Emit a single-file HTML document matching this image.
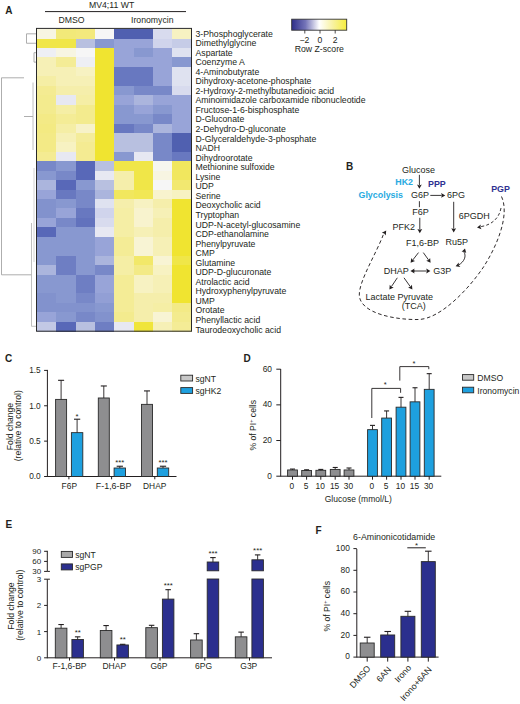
<!DOCTYPE html>
<html><head><meta charset="utf-8"><style>
html,body{margin:0;padding:0;background:#fff;}
svg{display:block;font-family:"Liberation Sans", sans-serif;}
</style></head><body>
<svg width="520" height="704" viewBox="0 0 520 704">
<rect width="520" height="704" fill="#ffffff"/>
<rect x="36.90" y="29.10" width="19.93" height="10.04" fill="#f7f5e2" shape-rendering="crispEdges"/>
<rect x="56.22" y="29.10" width="19.93" height="10.04" fill="#f2e979" shape-rendering="crispEdges"/>
<rect x="75.55" y="29.10" width="19.93" height="10.04" fill="#f3e97d" shape-rendering="crispEdges"/>
<rect x="94.88" y="29.10" width="19.93" height="10.04" fill="#f6f6f6" shape-rendering="crispEdges"/>
<rect x="114.20" y="29.10" width="19.93" height="10.04" fill="#5060b0" shape-rendering="crispEdges"/>
<rect x="133.53" y="29.10" width="19.93" height="10.04" fill="#5060b0" shape-rendering="crispEdges"/>
<rect x="152.85" y="29.10" width="19.93" height="10.04" fill="#d8dbee" shape-rendering="crispEdges"/>
<rect x="172.18" y="29.10" width="19.93" height="10.04" fill="#f7f2c2" shape-rendering="crispEdges"/>
<rect x="36.90" y="38.54" width="19.93" height="10.04" fill="#f0e648" shape-rendering="crispEdges"/>
<rect x="56.22" y="38.54" width="19.93" height="10.04" fill="#f0e648" shape-rendering="crispEdges"/>
<rect x="75.55" y="38.54" width="19.93" height="10.04" fill="#b8c0e0" shape-rendering="crispEdges"/>
<rect x="94.88" y="38.54" width="19.93" height="10.04" fill="#8898d0" shape-rendering="crispEdges"/>
<rect x="114.20" y="38.54" width="19.93" height="10.04" fill="#98a4d8" shape-rendering="crispEdges"/>
<rect x="133.53" y="38.54" width="19.93" height="10.04" fill="#98a4d8" shape-rendering="crispEdges"/>
<rect x="152.85" y="38.54" width="19.93" height="10.04" fill="#d0d4ec" shape-rendering="crispEdges"/>
<rect x="172.18" y="38.54" width="19.93" height="10.04" fill="#c6cce7" shape-rendering="crispEdges"/>
<rect x="36.90" y="47.98" width="19.93" height="10.04" fill="#eeeff4" shape-rendering="crispEdges"/>
<rect x="56.22" y="47.98" width="19.93" height="10.04" fill="#f7f5e2" shape-rendering="crispEdges"/>
<rect x="75.55" y="47.98" width="19.93" height="10.04" fill="#f6f6f6" shape-rendering="crispEdges"/>
<rect x="94.88" y="47.98" width="19.93" height="10.04" fill="#f0e430" shape-rendering="crispEdges"/>
<rect x="114.20" y="47.98" width="19.93" height="10.04" fill="#98a4d8" shape-rendering="crispEdges"/>
<rect x="133.53" y="47.98" width="19.93" height="10.04" fill="#8898d0" shape-rendering="crispEdges"/>
<rect x="152.85" y="47.98" width="19.93" height="10.04" fill="#98a4d8" shape-rendering="crispEdges"/>
<rect x="172.18" y="47.98" width="19.93" height="10.04" fill="#dfe2f0" shape-rendering="crispEdges"/>
<rect x="36.90" y="57.42" width="19.93" height="10.04" fill="#f6f0b6" shape-rendering="crispEdges"/>
<rect x="56.22" y="57.42" width="19.93" height="10.04" fill="#f4ec96" shape-rendering="crispEdges"/>
<rect x="75.55" y="57.42" width="19.93" height="10.04" fill="#eeeff4" shape-rendering="crispEdges"/>
<rect x="94.88" y="57.42" width="19.93" height="10.04" fill="#f0e430" shape-rendering="crispEdges"/>
<rect x="114.20" y="57.42" width="19.93" height="10.04" fill="#98a4d8" shape-rendering="crispEdges"/>
<rect x="133.53" y="57.42" width="19.93" height="10.04" fill="#98a4d8" shape-rendering="crispEdges"/>
<rect x="152.85" y="57.42" width="19.93" height="10.04" fill="#98a4d8" shape-rendering="crispEdges"/>
<rect x="172.18" y="57.42" width="19.93" height="10.04" fill="#8898d0" shape-rendering="crispEdges"/>
<rect x="36.90" y="66.86" width="19.93" height="10.04" fill="#f6f0b6" shape-rendering="crispEdges"/>
<rect x="56.22" y="66.86" width="19.93" height="10.04" fill="#f6f0b6" shape-rendering="crispEdges"/>
<rect x="75.55" y="66.86" width="19.93" height="10.04" fill="#f7f2c2" shape-rendering="crispEdges"/>
<rect x="94.88" y="66.86" width="19.93" height="10.04" fill="#f0e430" shape-rendering="crispEdges"/>
<rect x="114.20" y="66.86" width="19.93" height="10.04" fill="#6878c0" shape-rendering="crispEdges"/>
<rect x="133.53" y="66.86" width="19.93" height="10.04" fill="#6878c0" shape-rendering="crispEdges"/>
<rect x="152.85" y="66.86" width="19.93" height="10.04" fill="#98a4d8" shape-rendering="crispEdges"/>
<rect x="172.18" y="66.86" width="19.93" height="10.04" fill="#dfe2f0" shape-rendering="crispEdges"/>
<rect x="36.90" y="76.30" width="19.93" height="10.04" fill="#f5eea5" shape-rendering="crispEdges"/>
<rect x="56.22" y="76.30" width="19.93" height="10.04" fill="#f6f0b6" shape-rendering="crispEdges"/>
<rect x="75.55" y="76.30" width="19.93" height="10.04" fill="#f6f0b6" shape-rendering="crispEdges"/>
<rect x="94.88" y="76.30" width="19.93" height="10.04" fill="#f0e430" shape-rendering="crispEdges"/>
<rect x="114.20" y="76.30" width="19.93" height="10.04" fill="#6878c0" shape-rendering="crispEdges"/>
<rect x="133.53" y="76.30" width="19.93" height="10.04" fill="#6878c0" shape-rendering="crispEdges"/>
<rect x="152.85" y="76.30" width="19.93" height="10.04" fill="#98a4d8" shape-rendering="crispEdges"/>
<rect x="172.18" y="76.30" width="19.93" height="10.04" fill="#dfe2f0" shape-rendering="crispEdges"/>
<rect x="36.90" y="85.74" width="19.93" height="10.04" fill="#f4eb92" shape-rendering="crispEdges"/>
<rect x="56.22" y="85.74" width="19.93" height="10.04" fill="#f5eeab" shape-rendering="crispEdges"/>
<rect x="75.55" y="85.74" width="19.93" height="10.04" fill="#f5eeab" shape-rendering="crispEdges"/>
<rect x="94.88" y="85.74" width="19.93" height="10.04" fill="#f0e430" shape-rendering="crispEdges"/>
<rect x="114.20" y="85.74" width="19.93" height="10.04" fill="#8898d0" shape-rendering="crispEdges"/>
<rect x="133.53" y="85.74" width="19.93" height="10.04" fill="#7888c8" shape-rendering="crispEdges"/>
<rect x="152.85" y="85.74" width="19.93" height="10.04" fill="#7888c8" shape-rendering="crispEdges"/>
<rect x="172.18" y="85.74" width="19.93" height="10.04" fill="#d8dbee" shape-rendering="crispEdges"/>
<rect x="36.90" y="95.18" width="19.93" height="10.04" fill="#f3eb8e" shape-rendering="crispEdges"/>
<rect x="56.22" y="95.18" width="19.93" height="10.04" fill="#e7e8f2" shape-rendering="crispEdges"/>
<rect x="75.55" y="95.18" width="19.93" height="10.04" fill="#f5eea5" shape-rendering="crispEdges"/>
<rect x="94.88" y="95.18" width="19.93" height="10.04" fill="#f0e430" shape-rendering="crispEdges"/>
<rect x="114.20" y="95.18" width="19.93" height="10.04" fill="#98a4d8" shape-rendering="crispEdges"/>
<rect x="133.53" y="95.18" width="19.93" height="10.04" fill="#abb5dd" shape-rendering="crispEdges"/>
<rect x="152.85" y="95.18" width="19.93" height="10.04" fill="#98a4d8" shape-rendering="crispEdges"/>
<rect x="172.18" y="95.18" width="19.93" height="10.04" fill="#98a4d8" shape-rendering="crispEdges"/>
<rect x="36.90" y="104.62" width="19.93" height="10.04" fill="#f3eb8e" shape-rendering="crispEdges"/>
<rect x="56.22" y="104.62" width="19.93" height="10.04" fill="#f5eea5" shape-rendering="crispEdges"/>
<rect x="75.55" y="104.62" width="19.93" height="10.04" fill="#f3eb8e" shape-rendering="crispEdges"/>
<rect x="94.88" y="104.62" width="19.93" height="10.04" fill="#f0e430" shape-rendering="crispEdges"/>
<rect x="114.20" y="104.62" width="19.93" height="10.04" fill="#8898d0" shape-rendering="crispEdges"/>
<rect x="133.53" y="104.62" width="19.93" height="10.04" fill="#98a4d8" shape-rendering="crispEdges"/>
<rect x="152.85" y="104.62" width="19.93" height="10.04" fill="#8898d0" shape-rendering="crispEdges"/>
<rect x="172.18" y="104.62" width="19.93" height="10.04" fill="#98a4d8" shape-rendering="crispEdges"/>
<rect x="36.90" y="114.07" width="19.93" height="10.04" fill="#f3ea86" shape-rendering="crispEdges"/>
<rect x="56.22" y="114.07" width="19.93" height="10.04" fill="#f4ec96" shape-rendering="crispEdges"/>
<rect x="75.55" y="114.07" width="19.93" height="10.04" fill="#f3eb8e" shape-rendering="crispEdges"/>
<rect x="94.88" y="114.07" width="19.93" height="10.04" fill="#f0e430" shape-rendering="crispEdges"/>
<rect x="114.20" y="114.07" width="19.93" height="10.04" fill="#8898d0" shape-rendering="crispEdges"/>
<rect x="133.53" y="114.07" width="19.93" height="10.04" fill="#8898d0" shape-rendering="crispEdges"/>
<rect x="152.85" y="114.07" width="19.93" height="10.04" fill="#7888c8" shape-rendering="crispEdges"/>
<rect x="172.18" y="114.07" width="19.93" height="10.04" fill="#98a4d8" shape-rendering="crispEdges"/>
<rect x="36.90" y="123.51" width="19.93" height="10.04" fill="#f3ea82" shape-rendering="crispEdges"/>
<rect x="56.22" y="123.51" width="19.93" height="10.04" fill="#f5eea5" shape-rendering="crispEdges"/>
<rect x="75.55" y="123.51" width="19.93" height="10.04" fill="#f7f2c8" shape-rendering="crispEdges"/>
<rect x="94.88" y="123.51" width="19.93" height="10.04" fill="#f0e430" shape-rendering="crispEdges"/>
<rect x="114.20" y="123.51" width="19.93" height="10.04" fill="#6878c0" shape-rendering="crispEdges"/>
<rect x="133.53" y="123.51" width="19.93" height="10.04" fill="#7888c8" shape-rendering="crispEdges"/>
<rect x="152.85" y="123.51" width="19.93" height="10.04" fill="#abb5dd" shape-rendering="crispEdges"/>
<rect x="172.18" y="123.51" width="19.93" height="10.04" fill="#98a4d8" shape-rendering="crispEdges"/>
<rect x="36.90" y="132.95" width="19.93" height="10.04" fill="#f3ea86" shape-rendering="crispEdges"/>
<rect x="56.22" y="132.95" width="19.93" height="10.04" fill="#f6f0b6" shape-rendering="crispEdges"/>
<rect x="75.55" y="132.95" width="19.93" height="10.04" fill="#f4ec9a" shape-rendering="crispEdges"/>
<rect x="94.88" y="132.95" width="19.93" height="10.04" fill="#f0e430" shape-rendering="crispEdges"/>
<rect x="114.20" y="132.95" width="19.93" height="10.04" fill="#b8c0e0" shape-rendering="crispEdges"/>
<rect x="133.53" y="132.95" width="19.93" height="10.04" fill="#b8c0e0" shape-rendering="crispEdges"/>
<rect x="152.85" y="132.95" width="19.93" height="10.04" fill="#7888c8" shape-rendering="crispEdges"/>
<rect x="172.18" y="132.95" width="19.93" height="10.04" fill="#5060b0" shape-rendering="crispEdges"/>
<rect x="36.90" y="142.39" width="19.93" height="10.04" fill="#f3ea86" shape-rendering="crispEdges"/>
<rect x="56.22" y="142.39" width="19.93" height="10.04" fill="#f7f2c2" shape-rendering="crispEdges"/>
<rect x="75.55" y="142.39" width="19.93" height="10.04" fill="#f4eb92" shape-rendering="crispEdges"/>
<rect x="94.88" y="142.39" width="19.93" height="10.04" fill="#f0e430" shape-rendering="crispEdges"/>
<rect x="114.20" y="142.39" width="19.93" height="10.04" fill="#b8c0e0" shape-rendering="crispEdges"/>
<rect x="133.53" y="142.39" width="19.93" height="10.04" fill="#b8c0e0" shape-rendering="crispEdges"/>
<rect x="152.85" y="142.39" width="19.93" height="10.04" fill="#7888c8" shape-rendering="crispEdges"/>
<rect x="172.18" y="142.39" width="19.93" height="10.04" fill="#5060b0" shape-rendering="crispEdges"/>
<rect x="36.90" y="151.83" width="19.93" height="10.04" fill="#f4eb92" shape-rendering="crispEdges"/>
<rect x="56.22" y="151.83" width="19.93" height="10.04" fill="#e7e8f2" shape-rendering="crispEdges"/>
<rect x="75.55" y="151.83" width="19.93" height="10.04" fill="#f4eb92" shape-rendering="crispEdges"/>
<rect x="94.88" y="151.83" width="19.93" height="10.04" fill="#f0e430" shape-rendering="crispEdges"/>
<rect x="114.20" y="151.83" width="19.93" height="10.04" fill="#8898d0" shape-rendering="crispEdges"/>
<rect x="133.53" y="151.83" width="19.93" height="10.04" fill="#e7e8f2" shape-rendering="crispEdges"/>
<rect x="152.85" y="151.83" width="19.93" height="10.04" fill="#7888c8" shape-rendering="crispEdges"/>
<rect x="172.18" y="151.83" width="19.93" height="10.04" fill="#6878c0" shape-rendering="crispEdges"/>
<rect x="36.90" y="161.27" width="19.93" height="10.04" fill="#7888c8" shape-rendering="crispEdges"/>
<rect x="56.22" y="161.27" width="19.93" height="10.04" fill="#8898d0" shape-rendering="crispEdges"/>
<rect x="75.55" y="161.27" width="19.93" height="10.04" fill="#5868b8" shape-rendering="crispEdges"/>
<rect x="94.88" y="161.27" width="19.93" height="10.04" fill="#b8c0e0" shape-rendering="crispEdges"/>
<rect x="114.20" y="161.27" width="19.93" height="10.04" fill="#f0e648" shape-rendering="crispEdges"/>
<rect x="133.53" y="161.27" width="19.93" height="10.04" fill="#f0e648" shape-rendering="crispEdges"/>
<rect x="152.85" y="161.27" width="19.93" height="10.04" fill="#f6f6ef" shape-rendering="crispEdges"/>
<rect x="172.18" y="161.27" width="19.93" height="10.04" fill="#f1e75e" shape-rendering="crispEdges"/>
<rect x="36.90" y="170.71" width="19.93" height="10.04" fill="#8898d0" shape-rendering="crispEdges"/>
<rect x="56.22" y="170.71" width="19.93" height="10.04" fill="#7888c8" shape-rendering="crispEdges"/>
<rect x="75.55" y="170.71" width="19.93" height="10.04" fill="#5868b8" shape-rendering="crispEdges"/>
<rect x="94.88" y="170.71" width="19.93" height="10.04" fill="#e7e8f2" shape-rendering="crispEdges"/>
<rect x="114.20" y="170.71" width="19.93" height="10.04" fill="#f5eeab" shape-rendering="crispEdges"/>
<rect x="133.53" y="170.71" width="19.93" height="10.04" fill="#f0e648" shape-rendering="crispEdges"/>
<rect x="152.85" y="170.71" width="19.93" height="10.04" fill="#f7f5e2" shape-rendering="crispEdges"/>
<rect x="172.18" y="170.71" width="19.93" height="10.04" fill="#f1e75e" shape-rendering="crispEdges"/>
<rect x="36.90" y="180.15" width="19.93" height="10.04" fill="#abb5dd" shape-rendering="crispEdges"/>
<rect x="56.22" y="180.15" width="19.93" height="10.04" fill="#5868b8" shape-rendering="crispEdges"/>
<rect x="75.55" y="180.15" width="19.93" height="10.04" fill="#8898d0" shape-rendering="crispEdges"/>
<rect x="94.88" y="180.15" width="19.93" height="10.04" fill="#b8c0e0" shape-rendering="crispEdges"/>
<rect x="114.20" y="180.15" width="19.93" height="10.04" fill="#f5eeab" shape-rendering="crispEdges"/>
<rect x="133.53" y="180.15" width="19.93" height="10.04" fill="#f0e648" shape-rendering="crispEdges"/>
<rect x="152.85" y="180.15" width="19.93" height="10.04" fill="#f6f6f6" shape-rendering="crispEdges"/>
<rect x="172.18" y="180.15" width="19.93" height="10.04" fill="#f2e870" shape-rendering="crispEdges"/>
<rect x="36.90" y="189.59" width="19.93" height="10.04" fill="#98a4d8" shape-rendering="crispEdges"/>
<rect x="56.22" y="189.59" width="19.93" height="10.04" fill="#6878c0" shape-rendering="crispEdges"/>
<rect x="75.55" y="189.59" width="19.93" height="10.04" fill="#7888c8" shape-rendering="crispEdges"/>
<rect x="94.88" y="189.59" width="19.93" height="10.04" fill="#abb5dd" shape-rendering="crispEdges"/>
<rect x="114.20" y="189.59" width="19.93" height="10.04" fill="#f1e75e" shape-rendering="crispEdges"/>
<rect x="133.53" y="189.59" width="19.93" height="10.04" fill="#f1e755" shape-rendering="crispEdges"/>
<rect x="152.85" y="189.59" width="19.93" height="10.04" fill="#f8f3ce" shape-rendering="crispEdges"/>
<rect x="172.18" y="189.59" width="19.93" height="10.04" fill="#f7f2c2" shape-rendering="crispEdges"/>
<rect x="36.90" y="199.03" width="19.93" height="10.04" fill="#8292cd" shape-rendering="crispEdges"/>
<rect x="56.22" y="199.03" width="19.93" height="10.04" fill="#8898d0" shape-rendering="crispEdges"/>
<rect x="75.55" y="199.03" width="19.93" height="10.04" fill="#7888c8" shape-rendering="crispEdges"/>
<rect x="94.88" y="199.03" width="19.93" height="10.04" fill="#dfe2f0" shape-rendering="crispEdges"/>
<rect x="114.20" y="199.03" width="19.93" height="10.04" fill="#f5eeab" shape-rendering="crispEdges"/>
<rect x="133.53" y="199.03" width="19.93" height="10.04" fill="#f7f2c2" shape-rendering="crispEdges"/>
<rect x="152.85" y="199.03" width="19.93" height="10.04" fill="#f5eeab" shape-rendering="crispEdges"/>
<rect x="172.18" y="199.03" width="19.93" height="10.04" fill="#f0e430" shape-rendering="crispEdges"/>
<rect x="36.90" y="208.47" width="19.93" height="10.04" fill="#8292cd" shape-rendering="crispEdges"/>
<rect x="56.22" y="208.47" width="19.93" height="10.04" fill="#98a4d8" shape-rendering="crispEdges"/>
<rect x="75.55" y="208.47" width="19.93" height="10.04" fill="#6878c0" shape-rendering="crispEdges"/>
<rect x="94.88" y="208.47" width="19.93" height="10.04" fill="#d0d4ec" shape-rendering="crispEdges"/>
<rect x="114.20" y="208.47" width="19.93" height="10.04" fill="#f5eea5" shape-rendering="crispEdges"/>
<rect x="133.53" y="208.47" width="19.93" height="10.04" fill="#f8f3ce" shape-rendering="crispEdges"/>
<rect x="152.85" y="208.47" width="19.93" height="10.04" fill="#f6f0b6" shape-rendering="crispEdges"/>
<rect x="172.18" y="208.47" width="19.93" height="10.04" fill="#f0e430" shape-rendering="crispEdges"/>
<rect x="36.90" y="217.91" width="19.93" height="10.04" fill="#98a4d8" shape-rendering="crispEdges"/>
<rect x="56.22" y="217.91" width="19.93" height="10.04" fill="#7888c8" shape-rendering="crispEdges"/>
<rect x="75.55" y="217.91" width="19.93" height="10.04" fill="#6272bd" shape-rendering="crispEdges"/>
<rect x="94.88" y="217.91" width="19.93" height="10.04" fill="#d8dbee" shape-rendering="crispEdges"/>
<rect x="114.20" y="217.91" width="19.93" height="10.04" fill="#f5eea5" shape-rendering="crispEdges"/>
<rect x="133.53" y="217.91" width="19.93" height="10.04" fill="#f8f3ce" shape-rendering="crispEdges"/>
<rect x="152.85" y="217.91" width="19.93" height="10.04" fill="#f5eeab" shape-rendering="crispEdges"/>
<rect x="172.18" y="217.91" width="19.93" height="10.04" fill="#f0e430" shape-rendering="crispEdges"/>
<rect x="36.90" y="227.35" width="19.93" height="10.04" fill="#5868b8" shape-rendering="crispEdges"/>
<rect x="56.22" y="227.35" width="19.93" height="10.04" fill="#8898d0" shape-rendering="crispEdges"/>
<rect x="75.55" y="227.35" width="19.93" height="10.04" fill="#8898d0" shape-rendering="crispEdges"/>
<rect x="94.88" y="227.35" width="19.93" height="10.04" fill="#e7e8f2" shape-rendering="crispEdges"/>
<rect x="114.20" y="227.35" width="19.93" height="10.04" fill="#f5eea5" shape-rendering="crispEdges"/>
<rect x="133.53" y="227.35" width="19.93" height="10.04" fill="#f6f0b6" shape-rendering="crispEdges"/>
<rect x="152.85" y="227.35" width="19.93" height="10.04" fill="#f5eeab" shape-rendering="crispEdges"/>
<rect x="172.18" y="227.35" width="19.93" height="10.04" fill="#f0e430" shape-rendering="crispEdges"/>
<rect x="36.90" y="236.79" width="19.93" height="10.04" fill="#8898d0" shape-rendering="crispEdges"/>
<rect x="56.22" y="236.79" width="19.93" height="10.04" fill="#8898d0" shape-rendering="crispEdges"/>
<rect x="75.55" y="236.79" width="19.93" height="10.04" fill="#8898d0" shape-rendering="crispEdges"/>
<rect x="94.88" y="236.79" width="19.93" height="10.04" fill="#98a4d8" shape-rendering="crispEdges"/>
<rect x="114.20" y="236.79" width="19.93" height="10.04" fill="#f4ec96" shape-rendering="crispEdges"/>
<rect x="133.53" y="236.79" width="19.93" height="10.04" fill="#f8f4d4" shape-rendering="crispEdges"/>
<rect x="152.85" y="236.79" width="19.93" height="10.04" fill="#f6f0b6" shape-rendering="crispEdges"/>
<rect x="172.18" y="236.79" width="19.93" height="10.04" fill="#f0e430" shape-rendering="crispEdges"/>
<rect x="36.90" y="246.23" width="19.93" height="10.04" fill="#8898d0" shape-rendering="crispEdges"/>
<rect x="56.22" y="246.23" width="19.93" height="10.04" fill="#8898d0" shape-rendering="crispEdges"/>
<rect x="75.55" y="246.23" width="19.93" height="10.04" fill="#8898d0" shape-rendering="crispEdges"/>
<rect x="94.88" y="246.23" width="19.93" height="10.04" fill="#98a4d8" shape-rendering="crispEdges"/>
<rect x="114.20" y="246.23" width="19.93" height="10.04" fill="#f4ec96" shape-rendering="crispEdges"/>
<rect x="133.53" y="246.23" width="19.93" height="10.04" fill="#f8f4d4" shape-rendering="crispEdges"/>
<rect x="152.85" y="246.23" width="19.93" height="10.04" fill="#f6f0b6" shape-rendering="crispEdges"/>
<rect x="172.18" y="246.23" width="19.93" height="10.04" fill="#f0e430" shape-rendering="crispEdges"/>
<rect x="36.90" y="255.67" width="19.93" height="10.04" fill="#8898d0" shape-rendering="crispEdges"/>
<rect x="56.22" y="255.67" width="19.93" height="10.04" fill="#6e7ec3" shape-rendering="crispEdges"/>
<rect x="75.55" y="255.67" width="19.93" height="10.04" fill="#8898d0" shape-rendering="crispEdges"/>
<rect x="94.88" y="255.67" width="19.93" height="10.04" fill="#abb5dd" shape-rendering="crispEdges"/>
<rect x="114.20" y="255.67" width="19.93" height="10.04" fill="#f5eea5" shape-rendering="crispEdges"/>
<rect x="133.53" y="255.67" width="19.93" height="10.04" fill="#f2e869" shape-rendering="crispEdges"/>
<rect x="152.85" y="255.67" width="19.93" height="10.04" fill="#f8f4d4" shape-rendering="crispEdges"/>
<rect x="172.18" y="255.67" width="19.93" height="10.04" fill="#f0e648" shape-rendering="crispEdges"/>
<rect x="36.90" y="265.12" width="19.93" height="10.04" fill="#abb5dd" shape-rendering="crispEdges"/>
<rect x="56.22" y="265.12" width="19.93" height="10.04" fill="#6e7ec3" shape-rendering="crispEdges"/>
<rect x="75.55" y="265.12" width="19.93" height="10.04" fill="#8898d0" shape-rendering="crispEdges"/>
<rect x="94.88" y="265.12" width="19.93" height="10.04" fill="#7888c8" shape-rendering="crispEdges"/>
<rect x="114.20" y="265.12" width="19.93" height="10.04" fill="#f5eea5" shape-rendering="crispEdges"/>
<rect x="133.53" y="265.12" width="19.93" height="10.04" fill="#f3ea86" shape-rendering="crispEdges"/>
<rect x="152.85" y="265.12" width="19.93" height="10.04" fill="#f7f2c2" shape-rendering="crispEdges"/>
<rect x="172.18" y="265.12" width="19.93" height="10.04" fill="#f0e430" shape-rendering="crispEdges"/>
<rect x="36.90" y="274.56" width="19.93" height="10.04" fill="#8898d0" shape-rendering="crispEdges"/>
<rect x="56.22" y="274.56" width="19.93" height="10.04" fill="#8898d0" shape-rendering="crispEdges"/>
<rect x="75.55" y="274.56" width="19.93" height="10.04" fill="#6e7ec3" shape-rendering="crispEdges"/>
<rect x="94.88" y="274.56" width="19.93" height="10.04" fill="#98a4d8" shape-rendering="crispEdges"/>
<rect x="114.20" y="274.56" width="19.93" height="10.04" fill="#f4ec96" shape-rendering="crispEdges"/>
<rect x="133.53" y="274.56" width="19.93" height="10.04" fill="#f7f2c2" shape-rendering="crispEdges"/>
<rect x="152.85" y="274.56" width="19.93" height="10.04" fill="#f6f0b6" shape-rendering="crispEdges"/>
<rect x="172.18" y="274.56" width="19.93" height="10.04" fill="#f0e430" shape-rendering="crispEdges"/>
<rect x="36.90" y="284.00" width="19.93" height="10.04" fill="#8898d0" shape-rendering="crispEdges"/>
<rect x="56.22" y="284.00" width="19.93" height="10.04" fill="#8898d0" shape-rendering="crispEdges"/>
<rect x="75.55" y="284.00" width="19.93" height="10.04" fill="#6e7ec3" shape-rendering="crispEdges"/>
<rect x="94.88" y="284.00" width="19.93" height="10.04" fill="#98a4d8" shape-rendering="crispEdges"/>
<rect x="114.20" y="284.00" width="19.93" height="10.04" fill="#f4ec96" shape-rendering="crispEdges"/>
<rect x="133.53" y="284.00" width="19.93" height="10.04" fill="#f7f2c2" shape-rendering="crispEdges"/>
<rect x="152.85" y="284.00" width="19.93" height="10.04" fill="#f6f0b6" shape-rendering="crispEdges"/>
<rect x="172.18" y="284.00" width="19.93" height="10.04" fill="#f0e430" shape-rendering="crispEdges"/>
<rect x="36.90" y="293.44" width="19.93" height="10.04" fill="#8292cd" shape-rendering="crispEdges"/>
<rect x="56.22" y="293.44" width="19.93" height="10.04" fill="#8898d0" shape-rendering="crispEdges"/>
<rect x="75.55" y="293.44" width="19.93" height="10.04" fill="#7888c8" shape-rendering="crispEdges"/>
<rect x="94.88" y="293.44" width="19.93" height="10.04" fill="#929fd5" shape-rendering="crispEdges"/>
<rect x="114.20" y="293.44" width="19.93" height="10.04" fill="#f4ec96" shape-rendering="crispEdges"/>
<rect x="133.53" y="293.44" width="19.93" height="10.04" fill="#f5eeab" shape-rendering="crispEdges"/>
<rect x="152.85" y="293.44" width="19.93" height="10.04" fill="#f5eeab" shape-rendering="crispEdges"/>
<rect x="172.18" y="293.44" width="19.93" height="10.04" fill="#f0e430" shape-rendering="crispEdges"/>
<rect x="36.90" y="302.88" width="19.93" height="10.04" fill="#8292cd" shape-rendering="crispEdges"/>
<rect x="56.22" y="302.88" width="19.93" height="10.04" fill="#8292cd" shape-rendering="crispEdges"/>
<rect x="75.55" y="302.88" width="19.93" height="10.04" fill="#8292cd" shape-rendering="crispEdges"/>
<rect x="94.88" y="302.88" width="19.93" height="10.04" fill="#8898d0" shape-rendering="crispEdges"/>
<rect x="114.20" y="302.88" width="19.93" height="10.04" fill="#f4ec96" shape-rendering="crispEdges"/>
<rect x="133.53" y="302.88" width="19.93" height="10.04" fill="#f5eeab" shape-rendering="crispEdges"/>
<rect x="152.85" y="302.88" width="19.93" height="10.04" fill="#f5eea5" shape-rendering="crispEdges"/>
<rect x="172.18" y="302.88" width="19.93" height="10.04" fill="#f3ea86" shape-rendering="crispEdges"/>
<rect x="36.90" y="312.32" width="19.93" height="10.04" fill="#98a4d8" shape-rendering="crispEdges"/>
<rect x="56.22" y="312.32" width="19.93" height="10.04" fill="#8898d0" shape-rendering="crispEdges"/>
<rect x="75.55" y="312.32" width="19.93" height="10.04" fill="#7888c8" shape-rendering="crispEdges"/>
<rect x="94.88" y="312.32" width="19.93" height="10.04" fill="#8292cd" shape-rendering="crispEdges"/>
<rect x="114.20" y="312.32" width="19.93" height="10.04" fill="#f3eb8e" shape-rendering="crispEdges"/>
<rect x="133.53" y="312.32" width="19.93" height="10.04" fill="#f5eeab" shape-rendering="crispEdges"/>
<rect x="152.85" y="312.32" width="19.93" height="10.04" fill="#f8f4d4" shape-rendering="crispEdges"/>
<rect x="172.18" y="312.32" width="19.93" height="10.04" fill="#f3eb8e" shape-rendering="crispEdges"/>
<rect x="36.90" y="321.76" width="19.93" height="10.04" fill="#c2c8e5" shape-rendering="crispEdges"/>
<rect x="56.22" y="321.76" width="19.93" height="10.04" fill="#5868b8" shape-rendering="crispEdges"/>
<rect x="75.55" y="321.76" width="19.93" height="10.04" fill="#b8c0e0" shape-rendering="crispEdges"/>
<rect x="94.88" y="321.76" width="19.93" height="10.04" fill="#6e7ec3" shape-rendering="crispEdges"/>
<rect x="114.20" y="321.76" width="19.93" height="10.04" fill="#e7e8f2" shape-rendering="crispEdges"/>
<rect x="133.53" y="321.76" width="19.93" height="10.04" fill="#f0e53a" shape-rendering="crispEdges"/>
<rect x="152.85" y="321.76" width="19.93" height="10.04" fill="#f6f0b6" shape-rendering="crispEdges"/>
<rect x="172.18" y="321.76" width="19.93" height="10.04" fill="#f4ec96" shape-rendering="crispEdges"/>
<rect x="36.50" y="28.40" width="155.00" height="302.80" fill="none" stroke="#2a2a2a" stroke-width="1.0" />
<text x="195.50" y="36.50" font-size="8.7" text-anchor="start" font-weight="normal" fill="#231f20" >3-Phosphoglycerate</text>
<text x="195.50" y="46.05" font-size="8.7" text-anchor="start" font-weight="normal" fill="#231f20" >Dimethylglycine</text>
<text x="195.50" y="55.60" font-size="8.7" text-anchor="start" font-weight="normal" fill="#231f20" >Aspartate</text>
<text x="195.50" y="65.15" font-size="8.7" text-anchor="start" font-weight="normal" fill="#231f20" >Coenzyme A</text>
<text x="195.50" y="74.70" font-size="8.7" text-anchor="start" font-weight="normal" fill="#231f20" >4-Aminobutyrate</text>
<text x="195.50" y="84.25" font-size="8.7" text-anchor="start" font-weight="normal" fill="#231f20" >Dihydroxy-acetone-phosphate</text>
<text x="195.50" y="93.80" font-size="8.7" text-anchor="start" font-weight="normal" fill="#231f20" >2-Hydroxy-2-methylbutanedioic acid</text>
<text x="195.50" y="103.35" font-size="8.7" text-anchor="start" font-weight="normal" fill="#231f20" >Aminoimidazole carboxamide ribonucleotide</text>
<text x="195.50" y="112.90" font-size="8.7" text-anchor="start" font-weight="normal" fill="#231f20" >Fructose-1-6-bisphosphate</text>
<text x="195.50" y="122.45" font-size="8.7" text-anchor="start" font-weight="normal" fill="#231f20" >D-Gluconate</text>
<text x="195.50" y="132.00" font-size="8.7" text-anchor="start" font-weight="normal" fill="#231f20" >2-Dehydro-D-gluconate</text>
<text x="195.50" y="141.55" font-size="8.7" text-anchor="start" font-weight="normal" fill="#231f20" >D-Glyceraldehyde-3-phosphate</text>
<text x="195.50" y="151.10" font-size="8.7" text-anchor="start" font-weight="normal" fill="#231f20" >NADH</text>
<text x="195.50" y="160.65" font-size="8.7" text-anchor="start" font-weight="normal" fill="#231f20" >Dihydroorotate</text>
<text x="195.50" y="170.20" font-size="8.7" text-anchor="start" font-weight="normal" fill="#231f20" >Methionine sulfoxide</text>
<text x="195.50" y="179.75" font-size="8.7" text-anchor="start" font-weight="normal" fill="#231f20" >Lysine</text>
<text x="195.50" y="189.30" font-size="8.7" text-anchor="start" font-weight="normal" fill="#231f20" >UDP</text>
<text x="195.50" y="198.85" font-size="8.7" text-anchor="start" font-weight="normal" fill="#231f20" >Serine</text>
<text x="195.50" y="208.40" font-size="8.7" text-anchor="start" font-weight="normal" fill="#231f20" >Deoxycholic acid</text>
<text x="195.50" y="217.95" font-size="8.7" text-anchor="start" font-weight="normal" fill="#231f20" >Tryptophan</text>
<text x="195.50" y="227.50" font-size="8.7" text-anchor="start" font-weight="normal" fill="#231f20" >UDP-N-acetyl-glucosamine</text>
<text x="195.50" y="237.05" font-size="8.7" text-anchor="start" font-weight="normal" fill="#231f20" >CDP-ethanolamine</text>
<text x="195.50" y="246.60" font-size="8.7" text-anchor="start" font-weight="normal" fill="#231f20" >Phenylpyruvate</text>
<text x="195.50" y="256.15" font-size="8.7" text-anchor="start" font-weight="normal" fill="#231f20" >CMP</text>
<text x="195.50" y="265.70" font-size="8.7" text-anchor="start" font-weight="normal" fill="#231f20" >Glutamine</text>
<text x="195.50" y="275.25" font-size="8.7" text-anchor="start" font-weight="normal" fill="#231f20" >UDP-D-glucuronate</text>
<text x="195.50" y="284.80" font-size="8.7" text-anchor="start" font-weight="normal" fill="#231f20" >Atrolactic acid</text>
<text x="195.50" y="294.35" font-size="8.7" text-anchor="start" font-weight="normal" fill="#231f20" >Hydroxyphenylpyruvate</text>
<text x="195.50" y="303.90" font-size="8.7" text-anchor="start" font-weight="normal" fill="#231f20" >UMP</text>
<text x="195.50" y="313.45" font-size="8.7" text-anchor="start" font-weight="normal" fill="#231f20" >Orotate</text>
<text x="195.50" y="323.00" font-size="8.7" text-anchor="start" font-weight="normal" fill="#231f20" >Phenyllactic acid</text>
<text x="195.50" y="332.55" font-size="8.7" text-anchor="start" font-weight="normal" fill="#231f20" >Taurodeoxycholic acid</text>
<text x="5.20" y="13.80" font-size="10" text-anchor="start" font-weight="bold" fill="#231f20" >A</text>
<text x="111.60" y="7.60" font-size="8.7" text-anchor="middle" font-weight="normal" fill="#231f20" >MV4;11 WT</text>
<line x1="45.00" y1="11.60" x2="186.00" y2="11.60" stroke="#231f20" stroke-width="1.0" />
<text x="71.60" y="22.60" font-size="8.7" text-anchor="middle" font-weight="normal" fill="#231f20" >DMSO</text>
<text x="152.30" y="22.90" font-size="8.7" text-anchor="middle" font-weight="normal" fill="#231f20" >Ironomycin</text>
<path d="M36 33.82 H26.5 V43.26 H36" stroke="#999999" stroke-width="0.8" fill="none" />
<path d="M36 52.70 H34 V62.14 H36" stroke="#999999" stroke-width="0.8" fill="none" />
<path d="M24 116.5 H33" stroke="#999999" stroke-width="0.8" fill="none" />
<path d="M33 82.5 V150 " stroke="#b0b0b0" stroke-width="0.8" fill="none" />
<path d="M24 77.8 H1.5 V274.8 H31.5" stroke="#999999" stroke-width="0.8" fill="none" />
<path d="M31.5 223 V326.3 H36" stroke="#b0b0b0" stroke-width="0.8" fill="none" />
<path d="M34 168 V262" stroke="#c8c8c8" stroke-width="0.8" fill="none" />
<defs><linearGradient id="cb" x1="0" x2="1" y1="0" y2="0"><stop offset="0" stop-color="#2e2e8a"/><stop offset="0.25" stop-color="#7474b8"/><stop offset="0.5" stop-color="#ffffff"/><stop offset="0.75" stop-color="#f8f2a0"/><stop offset="1" stop-color="#f6ee3c"/></linearGradient></defs>
<rect x="291.70" y="19.20" width="55.00" height="11.00" fill="url(#cb)" stroke="#333" stroke-width="0.9" />
<line x1="304.80" y1="30.20" x2="304.80" y2="33.50" stroke="#231f20" stroke-width="0.8" />
<line x1="320.00" y1="30.20" x2="320.00" y2="33.50" stroke="#231f20" stroke-width="0.8" />
<line x1="335.20" y1="30.20" x2="335.20" y2="33.50" stroke="#231f20" stroke-width="0.8" />
<text x="304.30" y="42.60" font-size="8.6" text-anchor="middle" font-weight="normal" fill="#231f20" >−2</text>
<text x="320.00" y="42.60" font-size="8.6" text-anchor="middle" font-weight="normal" fill="#231f20" >0</text>
<text x="335.20" y="42.60" font-size="8.6" text-anchor="middle" font-weight="normal" fill="#231f20" >2</text>
<text x="319.30" y="52.20" font-size="8.7" text-anchor="middle" font-weight="normal" fill="#231f20" >Row Z-score</text>
<text x="346.00" y="170.30" font-size="10" text-anchor="start" font-weight="bold" fill="#231f20" >B</text>
<text x="418.50" y="172.60" font-size="9.0" text-anchor="middle" font-weight="normal" fill="#231f20" >Glucose</text>
<text x="395.30" y="184.80" font-size="8.9" text-anchor="start" font-weight="bold" fill="#27aae1" >HK2</text>
<text x="428.00" y="186.70" font-size="8.9" text-anchor="start" font-weight="bold" fill="#2e3192" >PPP</text>
<text x="358.50" y="198.30" font-size="8.9" text-anchor="start" font-weight="bold" fill="#27aae1" >Glycolysis</text>
<text x="420.10" y="198.30" font-size="9.0" text-anchor="middle" font-weight="normal" fill="#231f20" >G6P</text>
<text x="456.00" y="198.30" font-size="9.0" text-anchor="middle" font-weight="normal" fill="#231f20" >6PG</text>
<text x="420.60" y="214.60" font-size="9.0" text-anchor="middle" font-weight="normal" fill="#231f20" >F6P</text>
<text x="403.70" y="229.60" font-size="9.0" text-anchor="middle" font-weight="normal" fill="#231f20" >PFK2</text>
<text x="474.20" y="219.40" font-size="9.0" text-anchor="middle" font-weight="normal" fill="#231f20" >6PGDH</text>
<text x="500.50" y="192.00" font-size="8.9" text-anchor="middle" font-weight="bold" fill="#2e3192" >PGP</text>
<text x="422.60" y="246.20" font-size="9.0" text-anchor="middle" font-weight="normal" fill="#231f20" >F1,6-BP</text>
<text x="456.80" y="244.80" font-size="9.0" text-anchor="middle" font-weight="normal" fill="#231f20" >Ru5P</text>
<text x="396.30" y="274.00" font-size="9.0" text-anchor="middle" font-weight="normal" fill="#231f20" >DHAP</text>
<text x="442.30" y="274.00" font-size="9.0" text-anchor="middle" font-weight="normal" fill="#231f20" >G3P</text>
<text x="399.20" y="300.40" font-size="9.0" text-anchor="middle" font-weight="normal" fill="#231f20" >Lactate Pyruvate</text>
<text x="413.80" y="308.80" font-size="9.0" text-anchor="middle" font-weight="normal" fill="#231f20" >(TCA)</text>
<line x1="419.40" y1="174.80" x2="419.40" y2="185.20" stroke="#231f20" stroke-width="0.9" />
<path d="M419.40 188.80 L417.00 184.60 L419.40 185.40 L421.80 184.60 Z" fill="#231f20"/>
<line x1="430.30" y1="195.40" x2="441.70" y2="195.40" stroke="#231f20" stroke-width="0.9" />
<path d="M445.30 195.40 L441.10 197.80 L441.90 195.40 L441.10 193.00 Z" fill="#231f20"/>
<line x1="419.40" y1="201.20" x2="419.40" y2="207.20" stroke="#231f20" stroke-width="0.9" />
<line x1="419.80" y1="217.80" x2="419.80" y2="229.60" stroke="#231f20" stroke-width="0.9" />
<path d="M419.80 233.20 L417.40 229.00 L419.80 229.80 L422.20 229.00 Z" fill="#231f20"/>
<line x1="453.70" y1="201.80" x2="453.70" y2="228.80" stroke="#231f20" stroke-width="0.9" />
<path d="M453.70 232.40 L451.30 228.20 L453.70 229.00 L456.10 228.20 Z" fill="#231f20"/>
<line x1="418.50" y1="252.60" x2="412.80" y2="259.95" stroke="#231f20" stroke-width="0.9" />
<path d="M410.60 262.80 L411.27 258.01 L412.68 260.11 L415.07 260.95 Z" fill="#231f20"/>
<line x1="423.30" y1="252.60" x2="428.50" y2="259.87" stroke="#231f20" stroke-width="0.9" />
<path d="M430.60 262.80 L426.20 260.78 L428.62 260.04 L430.11 257.99 Z" fill="#231f20"/>
<line x1="414.00" y1="271.00" x2="426.80" y2="271.00" stroke="#231f20" stroke-width="0.9" />
<path d="M430.40 271.00 L426.20 273.40 L427.00 271.00 L426.20 268.60 Z" fill="#231f20"/>
<path d="M410.40 271.00 L414.60 268.60 L413.80 271.00 L414.60 273.40 Z" fill="#231f20"/>
<line x1="413.00" y1="271.00" x2="415.00" y2="271.00" stroke="#231f20" stroke-width="0.9" />
<line x1="397.30" y1="277.80" x2="391.40" y2="286.61" stroke="#231f20" stroke-width="0.9" />
<path d="M389.40 289.60 L389.74 284.77 L391.29 286.77 L393.73 287.45 Z" fill="#231f20"/>
<line x1="404.00" y1="277.80" x2="410.31" y2="286.67" stroke="#231f20" stroke-width="0.9" />
<path d="M412.40 289.60 L408.01 287.57 L410.43 286.83 L411.92 284.79 Z" fill="#231f20"/>
<path d="M463.6 251.5 C467 256, 464 262, 458.6 265" stroke="#231f20" stroke-width="0.9" fill="none" />
<path d="M465.00 248.40 L466.23 253.08 L464.12 251.68 L461.59 251.84 Z" fill="#231f20"/>
<path d="M455.60 266.30 L458.73 262.61 L458.79 265.14 L460.37 267.12 Z" fill="#231f20"/>
<path d="M501.5 196.5 C510 215, 497 246, 483.5 267 C468 290, 440 319, 418.5 319.5 C397 320, 360 314, 359.3 295 C359 281, 376 254, 383.4 234.5" stroke="#231f20" stroke-width="0.95" fill="none" stroke-dasharray="3.6 2.6"/>
<path d="M501 208 C499 219, 491 225, 481 226.6" stroke="#231f20" stroke-width="0.9" fill="none" stroke-dasharray="3 2.2"/>
<path d="M477.00 227.40 L480.83 224.44 L480.37 226.93 L481.49 229.19 Z" fill="#231f20"/>
<path d="M386.20 230.60 L385.76 235.42 L384.25 233.39 L381.83 232.66 Z" fill="#231f20"/>
<text x="5.00" y="362.40" font-size="10" text-anchor="start" font-weight="bold" fill="#231f20" >C</text>
<line x1="47.40" y1="369.90" x2="47.40" y2="476.95" stroke="#231f20" stroke-width="1" />
<line x1="44.10" y1="370.40" x2="47.40" y2="370.40" stroke="#231f20" stroke-width="1" />
<text x="40.70" y="373.30" font-size="8.3" text-anchor="end" font-weight="normal" fill="#231f20" >1.5</text>
<line x1="44.10" y1="405.77" x2="47.40" y2="405.77" stroke="#231f20" stroke-width="1" />
<text x="40.70" y="408.67" font-size="8.3" text-anchor="end" font-weight="normal" fill="#231f20" >1.0</text>
<line x1="44.10" y1="441.13" x2="47.40" y2="441.13" stroke="#231f20" stroke-width="1" />
<text x="40.70" y="444.03" font-size="8.3" text-anchor="end" font-weight="normal" fill="#231f20" >0.5</text>
<line x1="44.10" y1="476.50" x2="47.40" y2="476.50" stroke="#231f20" stroke-width="1" />
<text x="40.70" y="479.40" font-size="8.3" text-anchor="end" font-weight="normal" fill="#231f20" >0.0</text>
<line x1="47.40" y1="476.50" x2="176.50" y2="476.50" stroke="#231f20" stroke-width="1" />
<line x1="68.90" y1="476.50" x2="68.90" y2="479.30" stroke="#231f20" stroke-width="1" />
<line x1="111.60" y1="476.50" x2="111.60" y2="479.30" stroke="#231f20" stroke-width="1" />
<line x1="154.80" y1="476.50" x2="154.80" y2="479.30" stroke="#231f20" stroke-width="1" />
<rect x="55.60" y="399.40" width="11.00" height="77.10" fill="#8e8e90" stroke="#2a2a2a" stroke-width="0.9" />
<line x1="61.10" y1="399.40" x2="61.10" y2="380.31" stroke="#231f20" stroke-width="0.9" />
<line x1="58.08" y1="380.31" x2="64.13" y2="380.31" stroke="#231f20" stroke-width="1.1" />
<rect x="71.40" y="432.65" width="11.40" height="43.85" fill="#1ea0df" stroke="#2a2a2a" stroke-width="0.9" />
<line x1="77.10" y1="432.65" x2="77.10" y2="419.21" stroke="#231f20" stroke-width="0.9" />
<line x1="73.97" y1="419.21" x2="80.23" y2="419.21" stroke="#231f20" stroke-width="1.1" />
<rect x="98.30" y="397.99" width="11.00" height="78.51" fill="#8e8e90" stroke="#2a2a2a" stroke-width="0.9" />
<line x1="103.80" y1="397.99" x2="103.80" y2="385.97" stroke="#231f20" stroke-width="0.9" />
<line x1="100.78" y1="385.97" x2="106.83" y2="385.97" stroke="#231f20" stroke-width="1.1" />
<rect x="114.10" y="468.01" width="11.40" height="8.49" fill="#1ea0df" stroke="#2a2a2a" stroke-width="0.9" />
<line x1="119.80" y1="468.01" x2="119.80" y2="466.24" stroke="#231f20" stroke-width="0.9" />
<line x1="116.67" y1="466.24" x2="122.94" y2="466.24" stroke="#231f20" stroke-width="1.1" />
<rect x="141.50" y="404.36" width="11.00" height="72.14" fill="#8e8e90" stroke="#2a2a2a" stroke-width="0.9" />
<line x1="147.00" y1="404.36" x2="147.00" y2="390.92" stroke="#231f20" stroke-width="0.9" />
<line x1="143.97" y1="390.92" x2="150.03" y2="390.92" stroke="#231f20" stroke-width="1.1" />
<rect x="157.30" y="468.01" width="11.40" height="8.49" fill="#1ea0df" stroke="#2a2a2a" stroke-width="0.9" />
<line x1="163.00" y1="468.01" x2="163.00" y2="466.24" stroke="#231f20" stroke-width="0.9" />
<line x1="159.87" y1="466.24" x2="166.13" y2="466.24" stroke="#231f20" stroke-width="1.1" />
<text x="76.90" y="419.30" font-size="7.8" text-anchor="middle" font-weight="normal" fill="#231f20" >*</text>
<text x="119.80" y="464.70" font-size="7.8" text-anchor="middle" font-weight="normal" fill="#231f20" >***</text>
<text x="163.00" y="464.70" font-size="7.8" text-anchor="middle" font-weight="normal" fill="#231f20" >***</text>
<text x="69.30" y="488.70" font-size="8.4" text-anchor="middle" font-weight="normal" fill="#231f20" >F6P</text>
<text x="113.60" y="488.50" font-size="8.9" text-anchor="middle" font-weight="normal" fill="#231f20" >F-1,6-BP</text>
<text x="154.70" y="488.70" font-size="8.4" text-anchor="middle" font-weight="normal" fill="#231f20" >DHAP</text>
<text x="12.90" y="426.50" font-size="8.6" text-anchor="middle" font-weight="normal" fill="#231f20" transform="rotate(-90 12.9 426.5)">Fold change</text>
<text x="21.50" y="425.70" font-size="8.6" text-anchor="middle" font-weight="normal" fill="#231f20" transform="rotate(-90 21.5 425.7)">(relative to control)</text>
<rect x="180.80" y="375.20" width="11.80" height="5.80" fill="#c8c8c8" stroke="#2a2a2a" stroke-width="0.9" />
<rect x="180.80" y="387.60" width="11.80" height="5.80" fill="#1ea0df" stroke="#2a2a2a" stroke-width="0.9" />
<text x="195.40" y="381.50" font-size="8.6" text-anchor="start" font-weight="normal" fill="#231f20" >sgNT</text>
<text x="195.40" y="394.00" font-size="8.6" text-anchor="start" font-weight="normal" fill="#231f20" >sgHK2</text>
<text x="243.60" y="362.40" font-size="10" text-anchor="start" font-weight="bold" fill="#231f20" >D</text>
<line x1="280.70" y1="369.00" x2="280.70" y2="476.65" stroke="#231f20" stroke-width="1" />
<line x1="276.30" y1="369.20" x2="280.70" y2="369.20" stroke="#231f20" stroke-width="1" />
<text x="272.00" y="371.50" font-size="8.4" text-anchor="end" font-weight="normal" fill="#231f20" >60</text>
<line x1="276.30" y1="404.87" x2="280.70" y2="404.87" stroke="#231f20" stroke-width="1" />
<text x="272.00" y="407.17" font-size="8.4" text-anchor="end" font-weight="normal" fill="#231f20" >40</text>
<line x1="276.30" y1="440.53" x2="280.70" y2="440.53" stroke="#231f20" stroke-width="1" />
<text x="272.00" y="442.83" font-size="8.4" text-anchor="end" font-weight="normal" fill="#231f20" >20</text>
<line x1="276.30" y1="476.20" x2="280.70" y2="476.20" stroke="#231f20" stroke-width="1" />
<text x="272.00" y="478.50" font-size="8.4" text-anchor="end" font-weight="normal" fill="#231f20" >0</text>
<line x1="280.70" y1="476.20" x2="441.30" y2="476.20" stroke="#231f20" stroke-width="1" />
<rect x="287.60" y="469.96" width="9.80" height="6.24" fill="#8e8e90" stroke="#2a2a2a" stroke-width="0.9" />
<line x1="292.50" y1="469.96" x2="292.50" y2="469.07" stroke="#231f20" stroke-width="0.9" />
<line x1="290.00" y1="469.07" x2="295.00" y2="469.07" stroke="#231f20" stroke-width="1.1" />
<line x1="292.50" y1="476.20" x2="292.50" y2="479.70" stroke="#231f20" stroke-width="1" />
<rect x="301.70" y="470.49" width="9.80" height="5.71" fill="#8e8e90" stroke="#2a2a2a" stroke-width="0.9" />
<line x1="306.60" y1="470.49" x2="306.60" y2="469.78" stroke="#231f20" stroke-width="0.9" />
<line x1="304.10" y1="469.78" x2="309.10" y2="469.78" stroke="#231f20" stroke-width="1.1" />
<line x1="306.60" y1="476.20" x2="306.60" y2="479.70" stroke="#231f20" stroke-width="1" />
<rect x="315.90" y="470.31" width="9.80" height="5.88" fill="#8e8e90" stroke="#2a2a2a" stroke-width="0.9" />
<line x1="320.80" y1="470.31" x2="320.80" y2="469.42" stroke="#231f20" stroke-width="0.9" />
<line x1="318.30" y1="469.42" x2="323.30" y2="469.42" stroke="#231f20" stroke-width="1.1" />
<line x1="320.80" y1="476.20" x2="320.80" y2="479.70" stroke="#231f20" stroke-width="1" />
<rect x="330.30" y="469.42" width="9.80" height="6.78" fill="#8e8e90" stroke="#2a2a2a" stroke-width="0.9" />
<line x1="335.20" y1="469.42" x2="335.20" y2="467.46" stroke="#231f20" stroke-width="0.9" />
<line x1="332.70" y1="467.46" x2="337.70" y2="467.46" stroke="#231f20" stroke-width="1.1" />
<line x1="335.20" y1="476.20" x2="335.20" y2="479.70" stroke="#231f20" stroke-width="1" />
<rect x="344.10" y="469.96" width="9.80" height="6.24" fill="#8e8e90" stroke="#2a2a2a" stroke-width="0.9" />
<line x1="349.00" y1="469.96" x2="349.00" y2="468.00" stroke="#231f20" stroke-width="0.9" />
<line x1="346.50" y1="468.00" x2="351.50" y2="468.00" stroke="#231f20" stroke-width="1.1" />
<line x1="349.00" y1="476.20" x2="349.00" y2="479.70" stroke="#231f20" stroke-width="1" />
<rect x="367.60" y="429.65" width="9.80" height="46.55" fill="#1ea0df" stroke="#2a2a2a" stroke-width="0.9" />
<line x1="372.50" y1="429.65" x2="372.50" y2="425.38" stroke="#231f20" stroke-width="0.9" />
<line x1="370.00" y1="425.38" x2="375.00" y2="425.38" stroke="#231f20" stroke-width="1.1" />
<line x1="372.50" y1="476.20" x2="372.50" y2="479.70" stroke="#231f20" stroke-width="1" />
<rect x="381.70" y="418.06" width="9.80" height="58.14" fill="#1ea0df" stroke="#2a2a2a" stroke-width="0.9" />
<line x1="386.60" y1="418.06" x2="386.60" y2="410.93" stroke="#231f20" stroke-width="0.9" />
<line x1="384.10" y1="410.93" x2="389.10" y2="410.93" stroke="#231f20" stroke-width="1.1" />
<line x1="386.60" y1="476.20" x2="386.60" y2="479.70" stroke="#231f20" stroke-width="1" />
<rect x="396.10" y="407.18" width="9.80" height="69.02" fill="#1ea0df" stroke="#2a2a2a" stroke-width="0.9" />
<line x1="401.00" y1="407.18" x2="401.00" y2="397.38" stroke="#231f20" stroke-width="0.9" />
<line x1="398.50" y1="397.38" x2="403.50" y2="397.38" stroke="#231f20" stroke-width="1.1" />
<line x1="401.00" y1="476.20" x2="401.00" y2="479.70" stroke="#231f20" stroke-width="1" />
<rect x="410.10" y="401.83" width="9.80" height="74.37" fill="#1ea0df" stroke="#2a2a2a" stroke-width="0.9" />
<line x1="415.00" y1="401.83" x2="415.00" y2="387.75" stroke="#231f20" stroke-width="0.9" />
<line x1="412.50" y1="387.75" x2="417.50" y2="387.75" stroke="#231f20" stroke-width="1.1" />
<line x1="415.00" y1="476.20" x2="415.00" y2="479.70" stroke="#231f20" stroke-width="1" />
<rect x="424.30" y="389.35" width="9.80" height="86.85" fill="#1ea0df" stroke="#2a2a2a" stroke-width="0.9" />
<line x1="429.20" y1="389.35" x2="429.20" y2="373.66" stroke="#231f20" stroke-width="0.9" />
<line x1="426.70" y1="373.66" x2="431.70" y2="373.66" stroke="#231f20" stroke-width="1.1" />
<line x1="429.20" y1="476.20" x2="429.20" y2="479.70" stroke="#231f20" stroke-width="1" />
<text x="291.90" y="489.20" font-size="8.4" text-anchor="middle" font-weight="normal" fill="#231f20" >0</text>
<text x="306.00" y="489.20" font-size="8.4" text-anchor="middle" font-weight="normal" fill="#231f20" >5</text>
<text x="320.20" y="489.20" font-size="8.4" text-anchor="middle" font-weight="normal" fill="#231f20" >10</text>
<text x="334.60" y="489.20" font-size="8.4" text-anchor="middle" font-weight="normal" fill="#231f20" >15</text>
<text x="348.40" y="489.20" font-size="8.4" text-anchor="middle" font-weight="normal" fill="#231f20" >30</text>
<text x="371.90" y="489.20" font-size="8.4" text-anchor="middle" font-weight="normal" fill="#231f20" >0</text>
<text x="386.00" y="489.20" font-size="8.4" text-anchor="middle" font-weight="normal" fill="#231f20" >5</text>
<text x="400.40" y="489.20" font-size="8.4" text-anchor="middle" font-weight="normal" fill="#231f20" >10</text>
<text x="414.40" y="489.20" font-size="8.4" text-anchor="middle" font-weight="normal" fill="#231f20" >15</text>
<text x="428.60" y="489.20" font-size="8.4" text-anchor="middle" font-weight="normal" fill="#231f20" >30</text>
<text x="358.30" y="501.80" font-size="8.5" text-anchor="middle" font-weight="normal" fill="#231f20" >Glucose (mmol/L)</text>
<path d="M371.8 418 V388.4 H400.6 V392.8" stroke="#231f20" stroke-width="0.9" fill="none" />
<path d="M399.8 380.6 V366.6 H428.8 V369.2" stroke="#231f20" stroke-width="0.9" fill="none" />
<text x="385.20" y="387.00" font-size="7.5" text-anchor="middle" font-weight="normal" fill="#231f20" >*</text>
<text x="414.00" y="366.00" font-size="7.5" text-anchor="middle" font-weight="normal" fill="#231f20" >*</text>
<text x="256.00" y="425.20" font-size="8.6" text-anchor="middle" font-weight="normal" fill="#231f20" transform="rotate(-90 256 425.2)">% of PI<tspan font-size="5.5" dy="-3">+</tspan><tspan dy="3"> cells</tspan></text>
<rect x="462.50" y="374.60" width="11.20" height="5.60" fill="#c8c8c8" stroke="#2a2a2a" stroke-width="0.9" />
<rect x="462.50" y="387.20" width="11.20" height="5.60" fill="#1ea0df" stroke="#2a2a2a" stroke-width="0.9" />
<text x="477.30" y="381.00" font-size="8.6" text-anchor="start" font-weight="normal" fill="#231f20" >DMSO</text>
<text x="477.30" y="393.60" font-size="8.6" text-anchor="start" font-weight="normal" fill="#231f20" >Ironomycin</text>
<text x="5.40" y="527.80" font-size="10" text-anchor="start" font-weight="bold" fill="#231f20" >E</text>
<line x1="47.30" y1="579.20" x2="47.30" y2="658.25" stroke="#231f20" stroke-width="1" />
<line x1="44.10" y1="657.80" x2="47.30" y2="657.80" stroke="#231f20" stroke-width="1" />
<text x="41.20" y="660.70" font-size="8.0" text-anchor="end" font-weight="normal" fill="#231f20" >0</text>
<line x1="44.10" y1="631.60" x2="47.30" y2="631.60" stroke="#231f20" stroke-width="1" />
<text x="41.20" y="634.50" font-size="8.0" text-anchor="end" font-weight="normal" fill="#231f20" >1</text>
<line x1="44.10" y1="605.40" x2="47.30" y2="605.40" stroke="#231f20" stroke-width="1" />
<text x="41.20" y="608.30" font-size="8.0" text-anchor="end" font-weight="normal" fill="#231f20" >2</text>
<line x1="44.10" y1="579.20" x2="47.30" y2="579.20" stroke="#231f20" stroke-width="1" />
<text x="41.20" y="582.10" font-size="8.0" text-anchor="end" font-weight="normal" fill="#231f20" >3</text>
<line x1="47.30" y1="579.20" x2="49.90" y2="579.20" stroke="#231f20" stroke-width="1" />
<line x1="47.30" y1="550.80" x2="47.30" y2="571.40" stroke="#231f20" stroke-width="1" />
<line x1="47.30" y1="571.40" x2="49.90" y2="571.40" stroke="#231f20" stroke-width="1" />
<line x1="44.10" y1="551.30" x2="47.30" y2="551.30" stroke="#231f20" stroke-width="1" />
<text x="41.20" y="554.20" font-size="8.0" text-anchor="end" font-weight="normal" fill="#231f20" >90</text>
<line x1="44.10" y1="561.40" x2="47.30" y2="561.40" stroke="#231f20" stroke-width="1" />
<text x="41.20" y="564.30" font-size="8.0" text-anchor="end" font-weight="normal" fill="#231f20" >60</text>
<line x1="44.10" y1="571.40" x2="47.30" y2="571.40" stroke="#231f20" stroke-width="1" />
<text x="41.20" y="574.30" font-size="8.0" text-anchor="end" font-weight="normal" fill="#231f20" >30</text>
<line x1="47.30" y1="657.80" x2="272.00" y2="657.80" stroke="#231f20" stroke-width="1" />
<rect x="55.30" y="628.19" width="11.60" height="29.61" fill="#8e8e90" stroke="#2a2a2a" stroke-width="0.9" />
<line x1="61.10" y1="628.19" x2="61.10" y2="624.53" stroke="#231f20" stroke-width="0.9" />
<line x1="58.35" y1="624.53" x2="63.85" y2="624.53" stroke="#231f20" stroke-width="1.1" />
<line x1="69.50" y1="657.80" x2="69.50" y2="660.60" stroke="#231f20" stroke-width="1" />
<rect x="71.90" y="639.46" width="11.50" height="18.34" fill="#2b2f8e" stroke="#2a2a2a" stroke-width="0.9" />
<line x1="77.65" y1="639.46" x2="77.65" y2="636.84" stroke="#231f20" stroke-width="0.9" />
<line x1="74.90" y1="636.84" x2="80.40" y2="636.84" stroke="#231f20" stroke-width="1.1" />
<text x="77.70" y="634.84" font-size="7.8" text-anchor="middle" font-weight="normal" fill="#231f20" >**</text>
<rect x="100.30" y="630.55" width="11.60" height="27.25" fill="#8e8e90" stroke="#2a2a2a" stroke-width="0.9" />
<line x1="106.10" y1="630.55" x2="106.10" y2="625.57" stroke="#231f20" stroke-width="0.9" />
<line x1="103.35" y1="625.57" x2="108.85" y2="625.57" stroke="#231f20" stroke-width="1.1" />
<line x1="114.50" y1="657.80" x2="114.50" y2="660.60" stroke="#231f20" stroke-width="1" />
<rect x="116.90" y="644.96" width="11.50" height="12.84" fill="#2b2f8e" stroke="#2a2a2a" stroke-width="0.9" />
<line x1="122.65" y1="644.96" x2="122.65" y2="644.31" stroke="#231f20" stroke-width="0.9" />
<line x1="119.90" y1="644.31" x2="125.40" y2="644.31" stroke="#231f20" stroke-width="1.1" />
<text x="122.70" y="642.31" font-size="7.8" text-anchor="middle" font-weight="normal" fill="#231f20" >**</text>
<rect x="145.80" y="627.67" width="11.60" height="30.13" fill="#8e8e90" stroke="#2a2a2a" stroke-width="0.9" />
<line x1="151.60" y1="627.67" x2="151.60" y2="625.31" stroke="#231f20" stroke-width="0.9" />
<line x1="148.85" y1="625.31" x2="154.35" y2="625.31" stroke="#231f20" stroke-width="1.1" />
<line x1="160.00" y1="657.80" x2="160.00" y2="660.60" stroke="#231f20" stroke-width="1" />
<rect x="162.40" y="599.11" width="11.50" height="58.69" fill="#2b2f8e" stroke="#2a2a2a" stroke-width="0.9" />
<line x1="168.15" y1="599.11" x2="168.15" y2="589.68" stroke="#231f20" stroke-width="0.9" />
<line x1="165.40" y1="589.68" x2="170.90" y2="589.68" stroke="#231f20" stroke-width="1.1" />
<text x="168.20" y="587.68" font-size="7.8" text-anchor="middle" font-weight="normal" fill="#231f20" >***</text>
<rect x="190.60" y="639.98" width="11.60" height="17.82" fill="#8e8e90" stroke="#2a2a2a" stroke-width="0.9" />
<line x1="196.40" y1="639.98" x2="196.40" y2="633.70" stroke="#231f20" stroke-width="0.9" />
<line x1="193.65" y1="633.70" x2="199.15" y2="633.70" stroke="#231f20" stroke-width="1.1" />
<line x1="204.80" y1="657.80" x2="204.80" y2="660.60" stroke="#231f20" stroke-width="1" />
<rect x="235.30" y="636.84" width="11.60" height="20.96" fill="#8e8e90" stroke="#2a2a2a" stroke-width="0.9" />
<line x1="241.10" y1="636.84" x2="241.10" y2="632.12" stroke="#231f20" stroke-width="0.9" />
<line x1="238.35" y1="632.12" x2="243.85" y2="632.12" stroke="#231f20" stroke-width="1.1" />
<line x1="249.50" y1="657.80" x2="249.50" y2="660.60" stroke="#231f20" stroke-width="1" />
<rect x="207.20" y="579.00" width="11.50" height="78.80" fill="#2b2f8e" stroke="#2a2a2a" stroke-width="0.9" />
<rect x="207.20" y="562.00" width="11.50" height="8.80" fill="#2b2f8e" stroke="#2a2a2a" stroke-width="0.9" />
<line x1="212.95" y1="562.00" x2="212.95" y2="557.60" stroke="#231f20" stroke-width="0.9" />
<line x1="210.20" y1="557.60" x2="215.70" y2="557.60" stroke="#231f20" stroke-width="1.1" />
<text x="212.95" y="556.10" font-size="7.8" text-anchor="middle" font-weight="normal" fill="#231f20" >***</text>
<rect x="251.90" y="579.00" width="11.50" height="78.80" fill="#2b2f8e" stroke="#2a2a2a" stroke-width="0.9" />
<rect x="251.90" y="559.80" width="11.50" height="11.00" fill="#2b2f8e" stroke="#2a2a2a" stroke-width="0.9" />
<line x1="257.65" y1="559.80" x2="257.65" y2="554.90" stroke="#231f20" stroke-width="0.9" />
<line x1="254.90" y1="554.90" x2="260.40" y2="554.90" stroke="#231f20" stroke-width="1.1" />
<text x="257.65" y="553.40" font-size="7.8" text-anchor="middle" font-weight="normal" fill="#231f20" >***</text>
<text x="69.50" y="669.20" font-size="8.5" text-anchor="middle" font-weight="normal" fill="#231f20" >F-1,6-BP</text>
<text x="114.30" y="669.20" font-size="8.5" text-anchor="middle" font-weight="normal" fill="#231f20" >DHAP</text>
<text x="159.00" y="669.20" font-size="8.5" text-anchor="middle" font-weight="normal" fill="#231f20" >G6P</text>
<text x="203.60" y="669.20" font-size="8.5" text-anchor="middle" font-weight="normal" fill="#231f20" >6PG</text>
<text x="248.80" y="669.20" font-size="8.5" text-anchor="middle" font-weight="normal" fill="#231f20" >G3P</text>
<text x="13.60" y="606.00" font-size="8.6" text-anchor="middle" font-weight="normal" fill="#231f20" transform="rotate(-90 13.6 606.0)">Fold change</text>
<text x="23.00" y="605.20" font-size="8.6" text-anchor="middle" font-weight="normal" fill="#231f20" transform="rotate(-90 23.0 605.2)">(relative to control)</text>
<rect x="61.30" y="551.40" width="11.20" height="6.00" fill="#a8a8a8" stroke="#2a2a2a" stroke-width="0.9" />
<rect x="61.30" y="563.90" width="11.20" height="6.00" fill="#2b2f8e" stroke="#2a2a2a" stroke-width="0.9" />
<text x="75.20" y="557.80" font-size="8.6" text-anchor="start" font-weight="normal" fill="#231f20" >sgNT</text>
<text x="75.20" y="570.30" font-size="8.6" text-anchor="start" font-weight="normal" fill="#231f20" >sgPGP</text>
<text x="315.60" y="533.60" font-size="10" text-anchor="start" font-weight="bold" fill="#231f20" >F</text>
<text x="394.20" y="540.00" font-size="8.8" text-anchor="middle" font-weight="normal" fill="#231f20" >6-Aminonicotidamide</text>
<line x1="356.80" y1="549.00" x2="356.80" y2="657.55" stroke="#231f20" stroke-width="1" />
<line x1="353.40" y1="548.60" x2="356.80" y2="548.60" stroke="#231f20" stroke-width="1" />
<text x="349.80" y="550.90" font-size="8.4" text-anchor="end" font-weight="normal" fill="#231f20" >100</text>
<line x1="353.40" y1="570.30" x2="356.80" y2="570.30" stroke="#231f20" stroke-width="1" />
<text x="349.80" y="572.60" font-size="8.4" text-anchor="end" font-weight="normal" fill="#231f20" >80</text>
<line x1="353.40" y1="592.00" x2="356.80" y2="592.00" stroke="#231f20" stroke-width="1" />
<text x="349.80" y="594.30" font-size="8.4" text-anchor="end" font-weight="normal" fill="#231f20" >60</text>
<line x1="353.40" y1="613.70" x2="356.80" y2="613.70" stroke="#231f20" stroke-width="1" />
<text x="349.80" y="616.00" font-size="8.4" text-anchor="end" font-weight="normal" fill="#231f20" >40</text>
<line x1="353.40" y1="635.40" x2="356.80" y2="635.40" stroke="#231f20" stroke-width="1" />
<text x="349.80" y="637.70" font-size="8.4" text-anchor="end" font-weight="normal" fill="#231f20" >20</text>
<line x1="353.40" y1="657.10" x2="356.80" y2="657.10" stroke="#231f20" stroke-width="1" />
<text x="349.80" y="659.40" font-size="8.4" text-anchor="end" font-weight="normal" fill="#231f20" >0</text>
<line x1="356.80" y1="657.10" x2="438.60" y2="657.10" stroke="#231f20" stroke-width="1" />
<rect x="360.20" y="643.00" width="14.00" height="14.11" fill="#8e8e90" stroke="#2a2a2a" stroke-width="0.9" />
<line x1="367.20" y1="643.00" x2="367.20" y2="637.24" stroke="#231f20" stroke-width="0.9" />
<line x1="363.95" y1="637.24" x2="370.45" y2="637.24" stroke="#231f20" stroke-width="1.1" />
<line x1="367.20" y1="657.10" x2="367.20" y2="661.60" stroke="#231f20" stroke-width="1" />
<rect x="380.70" y="634.97" width="14.00" height="22.13" fill="#2b2f8e" stroke="#2a2a2a" stroke-width="0.9" />
<line x1="387.70" y1="634.97" x2="387.70" y2="631.49" stroke="#231f20" stroke-width="0.9" />
<line x1="384.45" y1="631.49" x2="390.95" y2="631.49" stroke="#231f20" stroke-width="1.1" />
<line x1="387.70" y1="657.10" x2="387.70" y2="661.60" stroke="#231f20" stroke-width="1" />
<rect x="400.90" y="616.30" width="14.00" height="40.80" fill="#2b2f8e" stroke="#2a2a2a" stroke-width="0.9" />
<line x1="407.90" y1="616.30" x2="407.90" y2="611.31" stroke="#231f20" stroke-width="0.9" />
<line x1="404.65" y1="611.31" x2="411.15" y2="611.31" stroke="#231f20" stroke-width="1.1" />
<line x1="407.90" y1="657.10" x2="407.90" y2="661.60" stroke="#231f20" stroke-width="1" />
<rect x="421.30" y="561.62" width="14.00" height="95.48" fill="#2b2f8e" stroke="#2a2a2a" stroke-width="0.9" />
<line x1="428.30" y1="561.62" x2="428.30" y2="551.20" stroke="#231f20" stroke-width="0.9" />
<line x1="425.05" y1="551.20" x2="431.55" y2="551.20" stroke="#231f20" stroke-width="1.1" />
<line x1="428.30" y1="657.10" x2="428.30" y2="661.60" stroke="#231f20" stroke-width="1" />
<line x1="407.30" y1="547.80" x2="425.80" y2="547.80" stroke="#231f20" stroke-width="1.0" />
<text x="416.50" y="548.00" font-size="7.8" text-anchor="middle" font-weight="normal" fill="#231f20" >*</text>
<text x="329.60" y="606.20" font-size="8.6" text-anchor="middle" font-weight="normal" fill="#231f20" transform="rotate(-90 329.6 606.2)">% of PI<tspan font-size="5.5" dy="-3">+</tspan><tspan dy="3"> cells</tspan></text>
<text x="371.20" y="669.00" font-size="8.8" text-anchor="end" font-weight="normal" fill="#231f20" transform="rotate(-48 371.20 669.00)">DMSO</text>
<text x="391.70" y="670.00" font-size="8.8" text-anchor="end" font-weight="normal" fill="#231f20" transform="rotate(-48 391.70 670.00)">6AN</text>
<text x="411.90" y="668.20" font-size="8.8" text-anchor="end" font-weight="normal" fill="#231f20" transform="rotate(-48 411.90 668.20)">Irono</text>
<text x="432.30" y="670.00" font-size="8.8" text-anchor="end" font-weight="normal" fill="#231f20" transform="rotate(-48 432.30 670.00)">Irono+6AN</text>
</svg></body></html>
